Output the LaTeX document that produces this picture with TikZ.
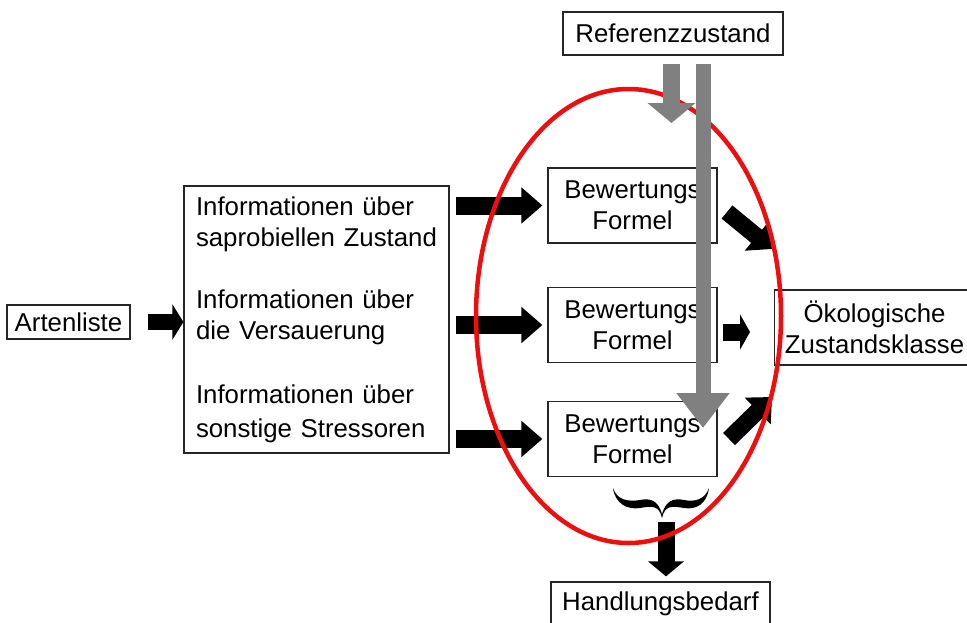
\documentclass[tikz,border=0pt]{standalone}
\usepackage{fontspec}
\setmainfont{Liberation Sans}
\usetikzlibrary{arrows.meta}
\definecolor{ovalred}{RGB}{238,14,14}
\definecolor{refgray}{RGB}{128,128,128}
\tikzset{
  box/.style={draw=black!85, line width=1.2pt, inner sep=0pt, align=center,
    font=\fontsize{25.8}{31}\selectfont},
  fatarrow/.style={line width=18pt, -{Triangle[width=35pt,length=21pt]}},
  grayarrow/.style={refgray, line width=16pt},
}
\begin{document}
\begin{tikzpicture}[x=1pt,y=-1pt]
      \useasboundingbox (0,0) rectangle (967,622);
      \node[box, minimum width=123pt, minimum height=34pt] (arten) at (68.5,322) {Artenliste};
      \node[box, minimum width=265pt, minimum height=267pt, text width=241pt, align=left] (info)
        at (316.5,319.5) {Informationen über\\saprobiellen Zustand\\[31pt]Informationen über\\die Versauerung\\[33pt]Informationen über\\[3pt]sonstige Stressoren};
      \node[box, minimum width=169pt, minimum height=75pt] (bew1) at (632.5,205.5) {Bewertungs\\Formel};
      \node[box, minimum width=169pt, minimum height=75pt] (bew2) at (632.5,325) {Bewertungs\\Formel};
      \node[box, minimum width=169pt, minimum height=75pt] (bew3) at (632.5,439) {Bewertungs\\Formel};
      \node[box, minimum height=75pt, text width=215pt, align=left, anchor=west] (oeko) at (774,327.5)
        {\makebox[200pt]{Ökologische}\\\makebox[200pt]{Zustandsklasse}};
      \node[box, minimum width=220pt, minimum height=43pt] (ref) at (673,33.5) {Referenzzustand};
      \node[box, minimum width=219pt, minimum height=43pt] (handl) at (660.5,603.5) {Handlungsbedarf};
      \coordinate (k1) at (727,212);
      \coordinate (k1e) at (772,249);
      \coordinate (k3) at (729,439);
      \coordinate (k3e) at (772,397);
      \coordinate (m2) at ([yshift=-7pt]bew2.east);
      \coordinate (bt) at (666,522);
      \coordinate (grayend) at (671.5,123);
      \coordinate (longend) at (703,428);
      \begin{scope}[fatarrow]
        \draw[line width=16pt, -{Triangle[width=35pt,length=11pt]}, shorten <=17pt] (arten.east) -- (arten.east -| info.west);
        \foreach \b in {bew1,bew2,bew3}
          \draw[shorten <=6pt, shorten >=5pt] (info.east |- \b.west) -- (\b.west);
        \draw[line width=17pt, -{Triangle[width=36pt,length=20pt]}] (k1) -- (k1e);
        \draw[line width=17pt, -{Triangle[width=35pt,length=10pt]}, shorten <=5pt, shorten >=24pt] (m2) -- (m2 -| oeko.west);
        \draw[line width=17pt, -{Triangle[width=36pt,length=20pt]}] (k3) -- (k3e);
        \draw[line width=17pt, -{Triangle[width=35pt,length=15pt]}, shorten >=5pt] (bt) -- (bt |- handl.north);
      \end{scope}
      \fill (613,488) .. controls (615,504) and (628,510) .. (640,508) .. controls (652,506) and (659,505) .. (662,518)
        .. controls (665,505) and (672,506) .. (684,508) .. controls (696,510) and (707,504) .. (709,488)
        .. controls (705,500) and (694,502) .. (684,500) .. controls (674,498) and (666,500) .. (662,514)
        .. controls (658,500) and (650,498) .. (640,500) .. controls (628,502) and (617,500) .. cycle;
      \draw[ovalred, line width=4.5pt] (628.5,316) ellipse [x radius=152.5pt, y radius=227pt];
      \draw[grayarrow, line width=17pt, -{Triangle[width=47pt,length=20pt]}] ([xshift=-1.5pt,yshift=-8pt]ref.south) -- (grayend);
      \draw[grayarrow, line width=15pt, -{Triangle[width=51pt,length=35pt]}] ([xshift=30pt,yshift=-8pt]ref.south) -- (longend);
    \end{tikzpicture}
\end{document}
